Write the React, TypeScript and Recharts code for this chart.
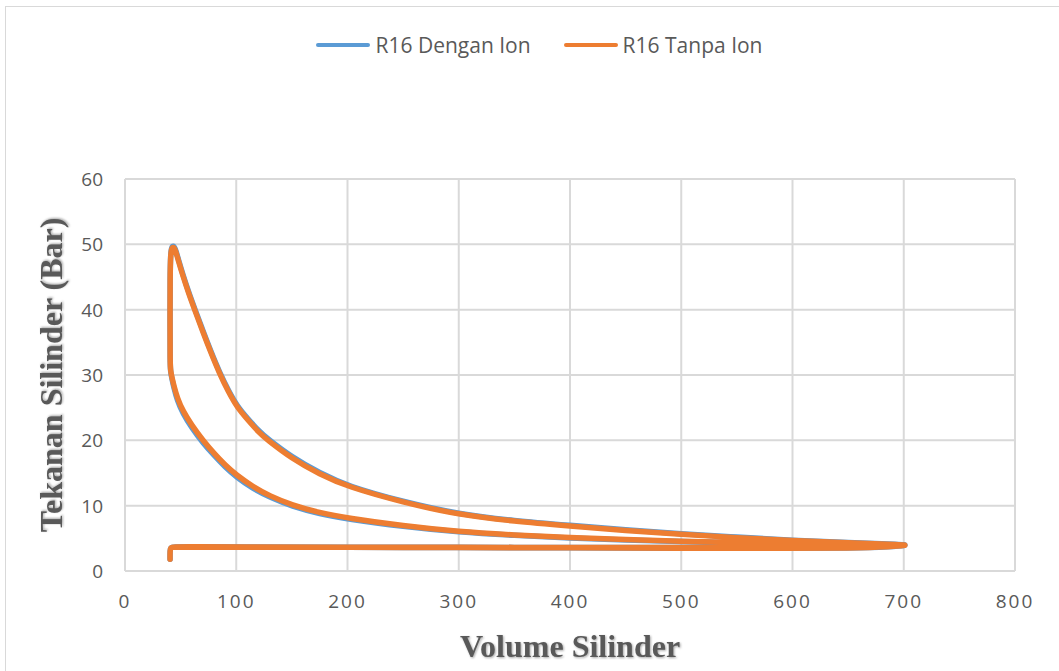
import { LineChart, Line, XAxis, YAxis, CartesianGrid, Label } from 'recharts'

// cylinder volume / pressure samples, one engine cycle per series:
// intake -> compression -> combustion -> expansion -> exhaust
const volTanpa = [
  40.5, 40.5, 41, 43, 60, 100, 200, 300, 400, 500, 600, 650, 690, 703,
  700, 650, 600, 550, 500, 450, 400, 350, 300, 250, 200, 175, 150, 130, 115, 100, 90, 80, 70, 60, 52, 47, 44, 42, 41,
  40.5, 40.5, 40.5, 41, 42, 43.5,
  45, 48, 52, 57, 63, 70, 77, 85, 93, 101, 110, 121, 127, 150, 175, 200, 250, 300, 350, 400, 450, 500, 550, 600, 650, 700, 703,
  690, 650, 600, 500, 400, 300, 200, 100, 60, 43,
]
const presTanpa = [
  1.8, 3.2, 3.55, 3.7, 3.7, 3.68, 3.65, 3.63, 3.6, 3.58, 3.57, 3.6, 3.75, 3.95,
  3.98, 4.05, 4.2, 4.35, 4.55, 4.8, 5.1, 5.5, 6.0, 6.9, 8.1, 8.9, 10.1, 11.5, 12.9, 14.7, 16.2, 18.0, 20.0, 22.3, 24.5, 26.5, 28.3, 29.8, 30.6,
  32, 38, 45, 48.5, 49.4, 49.6,
  49.3, 47.5, 45.2, 42.6, 39.8, 36.6, 33.5, 30.2, 27.4, 25.0, 23.2, 21.1, 20.2, 17.2, 14.8, 12.9, 10.5, 8.6, 7.6, 6.9, 6.2, 5.6, 5.1, 4.65, 4.3, 4.0, 3.95,
  3.7, 3.5, 3.45, 3.5, 3.55, 3.6, 3.62, 3.65, 3.65, 3.65,
]

const volDengan = volTanpa
const presDengan = [
  1.8, 3.2, 3.55, 3.7, 3.7, 3.68, 3.65, 3.63, 3.6, 3.58, 3.57, 3.6, 3.75, 3.95,
  3.95, 4.0, 4.15, 4.3, 4.5, 4.75, 5.05, 5.45, 5.95, 6.8, 7.95, 8.75, 9.9, 11.3, 12.6, 14.4, 15.9, 17.7, 19.6, 21.9, 24.1, 26.1, 28.0, 29.6, 30.4,
  32, 38, 45, 48.7, 49.6, 49.8,
  49.5, 47.7, 45.4, 42.8, 40.0, 36.8, 33.7, 30.4, 27.6, 25.2, 23.4, 21.3, 20.4, 17.4, 15.0, 13.0, 10.6, 8.7, 7.7, 7.0, 6.3, 5.7, 5.2, 4.7, 4.35, 4.05, 3.98,
  3.7, 3.5, 3.45, 3.5, 3.55, 3.6, 3.62, 3.65, 3.65, 3.65,
]

const xTicks = [0, 100, 200, 300, 400, 500, 600, 700, 800]
const yTicks = [0, 10, 20, 30, 40, 50, 60]

const series = [
  { name: 'R16 Dengan Ion', color: '#5B9BD5', vol: volDengan, pres: presDengan },
  { name: 'R16 Tanpa Ion', color: '#ED7D31', vol: volTanpa, pres: presTanpa },
]

const toRows = (vol: number[], pres: number[]) => vol.map((v, i) => ({ v, p: pres[i] }))

const tickFont = '"Open Sans", sans-serif'
const titleStyle = {
  fontFamily: '"Liberation Serif", "Times New Roman", serif',
  fontWeight: 700,
  fill: '#595959',
  filter: 'drop-shadow(1px 1px 1px rgba(0,0,0,0.35))',
}

const XTick = ({ x, y, payload }: any) => (
  <text x={x} y={y + 29} textAnchor="middle" fontFamily={tickFont} fontSize={19} letterSpacing={2} fill="#595959">
    {payload.value}
  </text>
)

const YTick = ({ y, payload }: any) => (
  <text x={103} y={y + 7} textAnchor="end" fontFamily={tickFont} fontSize={19} fill="#595959">
    {payload.value}
  </text>
)

function LegendBox() {
  return (
    <div
      style={{
        position: 'absolute',
        top: 31,
        left: 10,
        width: 1059,
        display: 'flex',
        justifyContent: 'center',
        gap: 33,
        fontFamily: tickFont,
        fontSize: 21,
        color: '#595959',
      }}
    >
      {series.map((s) => (
        <div key={s.name} style={{ display: 'flex', alignItems: 'center' }}>
          <span style={{ display: 'inline-block', width: 54, height: 4, borderRadius: 2, background: s.color, marginRight: 5 }} />
          {s.name}
        </div>
      ))}
    </div>
  )
}

export default function App() {
  return (
    <div style={{ position: 'absolute', left: 0, top: 0, width: 1059, height: 671, background: '#fff', overflow: 'hidden' }}>
      <div style={{ position: 'absolute', left: 5, top: 6, width: 1070, height: 680, border: '1px solid #d9d9d9' }} />
      <LegendBox />
      <LineChart width={1059} height={671} margin={{ top: 179, right: 44, bottom: 70, left: 65 }} style={{ position: 'absolute', left: 0, top: 0 }}>
        <CartesianGrid stroke="#d9d9d9" strokeWidth={2} />
        <XAxis
          type="number"
          dataKey="v"
          domain={[0, 800]}
          ticks={xTicks}
          axisLine={false}
          tickLine={false}
          height={30}
          tick={<XTick />}
          allowDataOverflow
        >
          <Label
            content={() => (
              <text x={570} y={657} textAnchor="middle" fontSize={32} style={titleStyle}>
                Volume Silinder
              </text>
            )}
          />
        </XAxis>
        <YAxis
          type="number"
          domain={[0, 60]}
          ticks={yTicks}
          axisLine={false}
          tickLine={false}
          width={60}
          tick={<YTick />}
          allowDataOverflow
        >
          <Label
            content={() => (
              <text
                x={0}
                y={0}
                transform="translate(62 375) rotate(-90)"
                textAnchor="middle"
                fontSize={32}
                style={titleStyle}
              >
                Tekanan Silinder (Bar)
              </text>
            )}
          />
        </YAxis>
        {series.map((s) => (
          <Line
            key={s.name}
            name={s.name}
            data={toRows(s.vol, s.pres)}
            dataKey="p"
            type="basis"
            stroke={s.color}
            strokeWidth={5.5}
            strokeLinejoin="round"
            strokeLinecap="round"
            dot={false}
            activeDot={false}
            isAnimationActive={false}
          />
        ))}
      </LineChart>
    </div>
  )
}
